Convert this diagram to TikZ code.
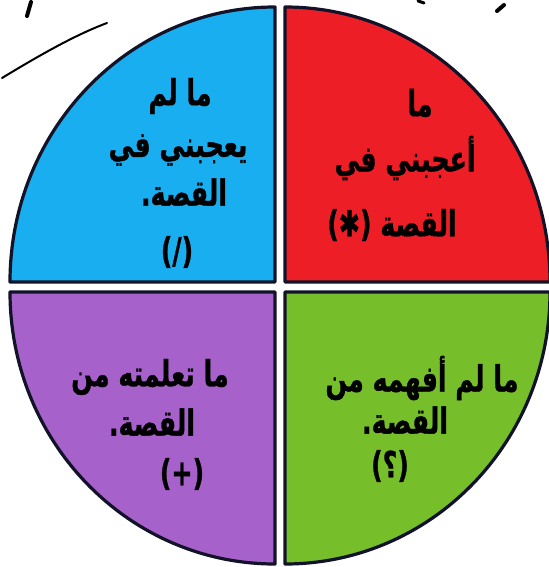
\documentclass[tikz,border=0pt]{standalone}
\usepackage{fontspec}
\usepackage{graphicx}
\newfontfamily\arabicfont[Script=Arabic, BoldFeatures={FakeBold=1.2}]{DejaVu Sans}
\TeXXeTstate=1
\definecolor{qblue}{RGB}{25,174,239}
\definecolor{qred}{RGB}{238,30,38}
\definecolor{qpurple}{RGB}{166,98,202}
\definecolor{qgreen}{RGB}{118,190,42}
\definecolor{qline}{RGB}{18,18,40}
\tikzset{
  quad/.style={draw=qline, line width=1.6pt, line join=round},
  lbl/.style={inner sep=0pt, text=black, font=\arabicfont\bfseries\fontsize{13}{15}\selectfont},
  stroke/.style={draw=black, line width=1pt, line cap=round}
}
\newcommand{\artxt}[1]{\scalebox{0.97}[1.38]{\beginR #1\endR}}

\begin{document}
\begin{tikzpicture}[x=0.5pt, y=-0.5pt]
  \useasboundingbox (0,0) rectangle (549,567);
  % four quarters, cut apart by a white cross
  \draw[quad, fill=qblue]   (275,282) -- (275,7) arc[start angle=-90, end angle=-180, x radius=265, y radius=275] -- cycle;
  \draw[quad, fill=qred]    (285,282) -- (550,282) arc[start angle=0, end angle=-90, x radius=265, y radius=275] -- cycle;
  \draw[quad, fill=qpurple] (275,292) -- (10,292) arc[start angle=180, end angle=90, x radius=265, y radius=272] -- cycle;
  \draw[quad, fill=qgreen]  (285,292) -- (285,564) arc[start angle=90, end angle=0, x radius=265, y radius=272] -- cycle;
  % blue quarter
  \node[lbl] (b1) at (180,96)  {\artxt{ما لم}};
  \node[lbl] (b2) at (178,150) {\artxt{يعجبني في}};
  \node[lbl] (b3) at (184,192) {\artxt{القصة.}};
  \node[lbl] (b4) at (177,252) {\artxt{(/)}};
  % red quarter
  \node[lbl] (r1) at (420,103) {\artxt{ما}};
  \node[lbl] (r2) at (405,158) {\artxt{أعجبني في}};
  \node[lbl] (r3) at (392,225) {\artxt{القصة (✱)}};
  % purple quarter
  \node[lbl] (p1) at (150,377) {\artxt{ما تعلمته من}};
  \node[lbl] (p2) at (152,422) {\artxt{القصة.}};
  \node[lbl] (p3) at (182,474) {\artxt{(+)}};
  % green quarter
  \node[lbl] (g1) at (422,378) {\artxt{ما لم أفهمه من}};
  \node[lbl] (g2) at (405,420) {\artxt{القصة.}};
  \node[lbl] (g3) at (390,466) {\artxt{(؟)}};
  % cut-off pen marks along the top
  \draw[stroke] (2,78) .. controls (40,55) and (75,35) .. (107,23);
  \draw[stroke, line width=2pt] (27,16) -- (31,2);
  \draw[stroke, line width=2pt] (497,11) -- (504,5);
  \draw[stroke, line width=1.5pt] (418,1) -- (424,3);
\end{tikzpicture}
\end{document}
